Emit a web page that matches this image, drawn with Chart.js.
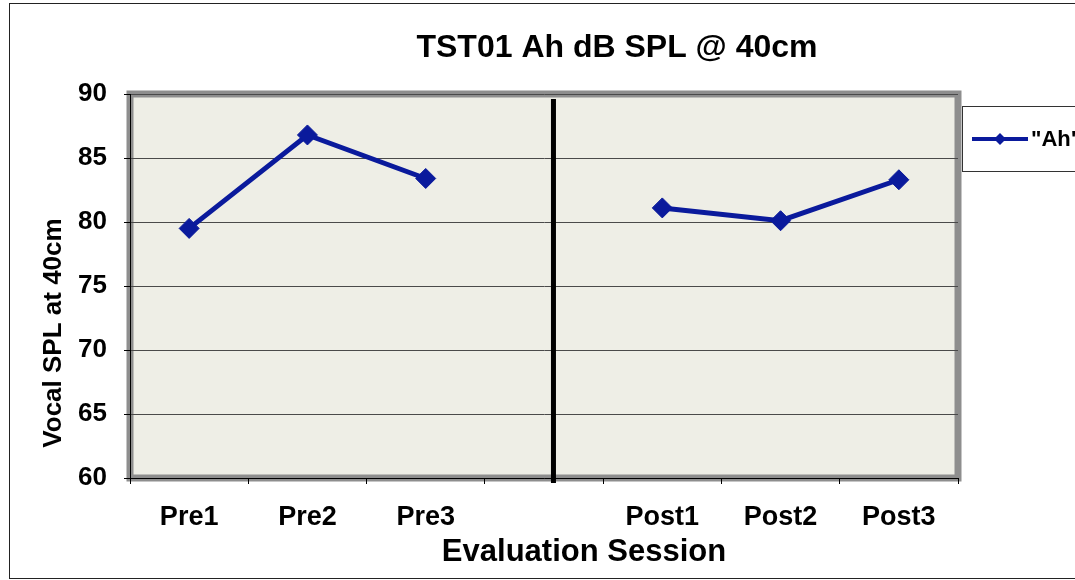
<!DOCTYPE html>
<html>
<head>
<meta charset="utf-8">
<title>TST01 Ah dB SPL @ 40cm</title>
<script src="https://cdn.jsdelivr.net/npm/chart.js"></script>
<style>
    html, body { margin: 0; padding: 0; background: #fff; }
    #chartBox { position: relative; width: 1075px; height: 580px; }
</style>
</head>
<body>
<div id="chartBox"><canvas id="splChart" width="1075" height="580"></canvas></div>
<script>
// Data
const sessions = ['Pre1', 'Pre2', 'Pre3', '', 'Post1', 'Post2', 'Post3'];
const ahValues = [79.5, 86.8, 83.4, null, 81.1, 80.1, 83.3];
const yTicks = [60, 65, 70, 75, 80, 85, 90];
const separatorAt = 3.08; // category position of the pre/post divider

const chartTitle = 'TST01 Ah dB SPL @ 40cm';
const xTitle = 'Evaluation Session';
const yTitle = 'Vocal SPL at 40cm';
const seriesLabel = '"Ah"';

const lineColor = '#0A1A9C';
const plotBg = '#EEEEE6';
const fontFamily = '"Liberation Sans", Arial, sans-serif';

// Frame, plot background and the grey plot border
const backgroundPlugin = {
    id: 'backgroundPlugin',
    beforeDraw: function(chart) {
        const ctx = chart.ctx;
        const a = chart.chartArea;
        ctx.save();
        ctx.fillStyle = '#fff';
        ctx.fillRect(0, 0, chart.width, chart.height);
        ctx.strokeStyle = '#222';
        ctx.lineWidth = 1;
        ctx.strokeRect(9.5, 3.5, chart.width, 575);

        ctx.fillStyle = plotBg;
        ctx.fillRect(a.left, a.top, a.right - a.left, a.bottom - a.top);
        ctx.strokeStyle = '#8E8E8E';
        ctx.lineWidth = 7;
        ctx.strokeRect(a.left, a.top, a.right - a.left, a.bottom - a.top);
        ctx.restore();
    }
};

// Titles, divider line and legend box
const overlayPlugin = {
    id: 'overlayPlugin',
    afterDraw: function(chart) {
        const ctx = chart.ctx;
        const a = chart.chartArea;
        const x = chart.scales.x;
        ctx.save();

        // divider between pre and post sessions
        const sx = x.getPixelForValue(separatorAt);
        ctx.fillStyle = '#000';
        ctx.fillRect(sx - 2.5, a.top + 5, 5, a.bottom - a.top);

        ctx.fillStyle = '#000';
        ctx.textAlign = 'center';
        ctx.textBaseline = 'middle';
        ctx.font = 'bold 32px ' + fontFamily;
        ctx.fillText(chartTitle, 617, 48);

        ctx.font = 'bold 31px ' + fontFamily;
        ctx.fillText(xTitle, 584, 552);

        ctx.save();
        ctx.translate(54, 333);
        ctx.rotate(-Math.PI / 2);
        ctx.font = 'bold 26px ' + fontFamily;
        ctx.fillText(yTitle, 0, 0);
        ctx.restore();

        // legend
        ctx.fillStyle = '#fff';
        ctx.fillRect(962.5, 106.5, 200, 65);
        ctx.strokeStyle = '#333';
        ctx.lineWidth = 1;
        ctx.strokeRect(962.5, 106.5, 200, 65);
        ctx.strokeStyle = lineColor;
        ctx.lineWidth = 4;
        ctx.beginPath();
        ctx.moveTo(972, 139);
        ctx.lineTo(1028, 139);
        ctx.stroke();
        ctx.fillStyle = lineColor;
        ctx.beginPath();
        ctx.moveTo(1000, 133);
        ctx.lineTo(1006, 139);
        ctx.lineTo(1000, 145);
        ctx.lineTo(994, 139);
        ctx.closePath();
        ctx.fill();
        ctx.fillStyle = '#000';
        ctx.textAlign = 'left';
        ctx.font = 'bold 22px ' + fontFamily;
        ctx.fillText(seriesLabel, 1031, 140);

        ctx.restore();
    }
};

document.addEventListener('DOMContentLoaded', function() {
    const canvas = document.getElementById('splChart');
    const ctx = canvas.getContext('2d');

    new Chart(ctx, {
        type: 'line',
        data: {
            labels: sessions,
            datasets: [{
                label: seriesLabel,
                data: ahValues,
                borderColor: lineColor,
                backgroundColor: lineColor,
                borderWidth: 5,
                tension: 0,
                spanGaps: false,
                pointStyle: 'rectRot',
                pointRadius: 10,
                pointHoverRadius: 10,
                pointBackgroundColor: lineColor,
                pointBorderColor: lineColor,
                pointBorderWidth: 1
            }]
        },
        options: {
            responsive: false,
            animation: false,
            devicePixelRatio: 1,
            layout: {
                padding: { left: 0, right: 117, top: 94, bottom: 0 }
            },
            scales: {
                x: {
                    offset: true,
                    afterFit: function(scale) { scale.height = 102; },
                    grid: {
                        offset: true,
                        drawOnChartArea: false,
                        drawTicks: true,
                        tickLength: 6,
                        color: '#000'
                    },
                    border: { color: '#000', width: 1 },
                    ticks: {
                        color: '#000',
                        padding: 17,
                        font: { family: fontFamily, size: 27, weight: 'bold' }
                    }
                },
                y: {
                    min: 60,
                    max: 90,
                    afterFit: function(scale) { scale.width = 130; },
                    afterBuildTicks: function(scale) {
                        scale.ticks = yTicks.map(function(v) { return { value: v }; });
                    },
                    grid: {
                        color: '#4a4a4a',
                        lineWidth: 1,
                        tickLength: 6,
                        tickColor: '#000'
                    },
                    border: { color: '#000', width: 1 },
                    ticks: {
                        color: '#000',
                        padding: 17,
                        font: { family: fontFamily, size: 26, weight: 'bold' }
                    }
                }
            },
            plugins: {
                legend: { display: false },
                title: { display: false },
                tooltip: { enabled: false }
            }
        },
        plugins: [backgroundPlugin, overlayPlugin]
    });
});
</script>
</body>
</html>
